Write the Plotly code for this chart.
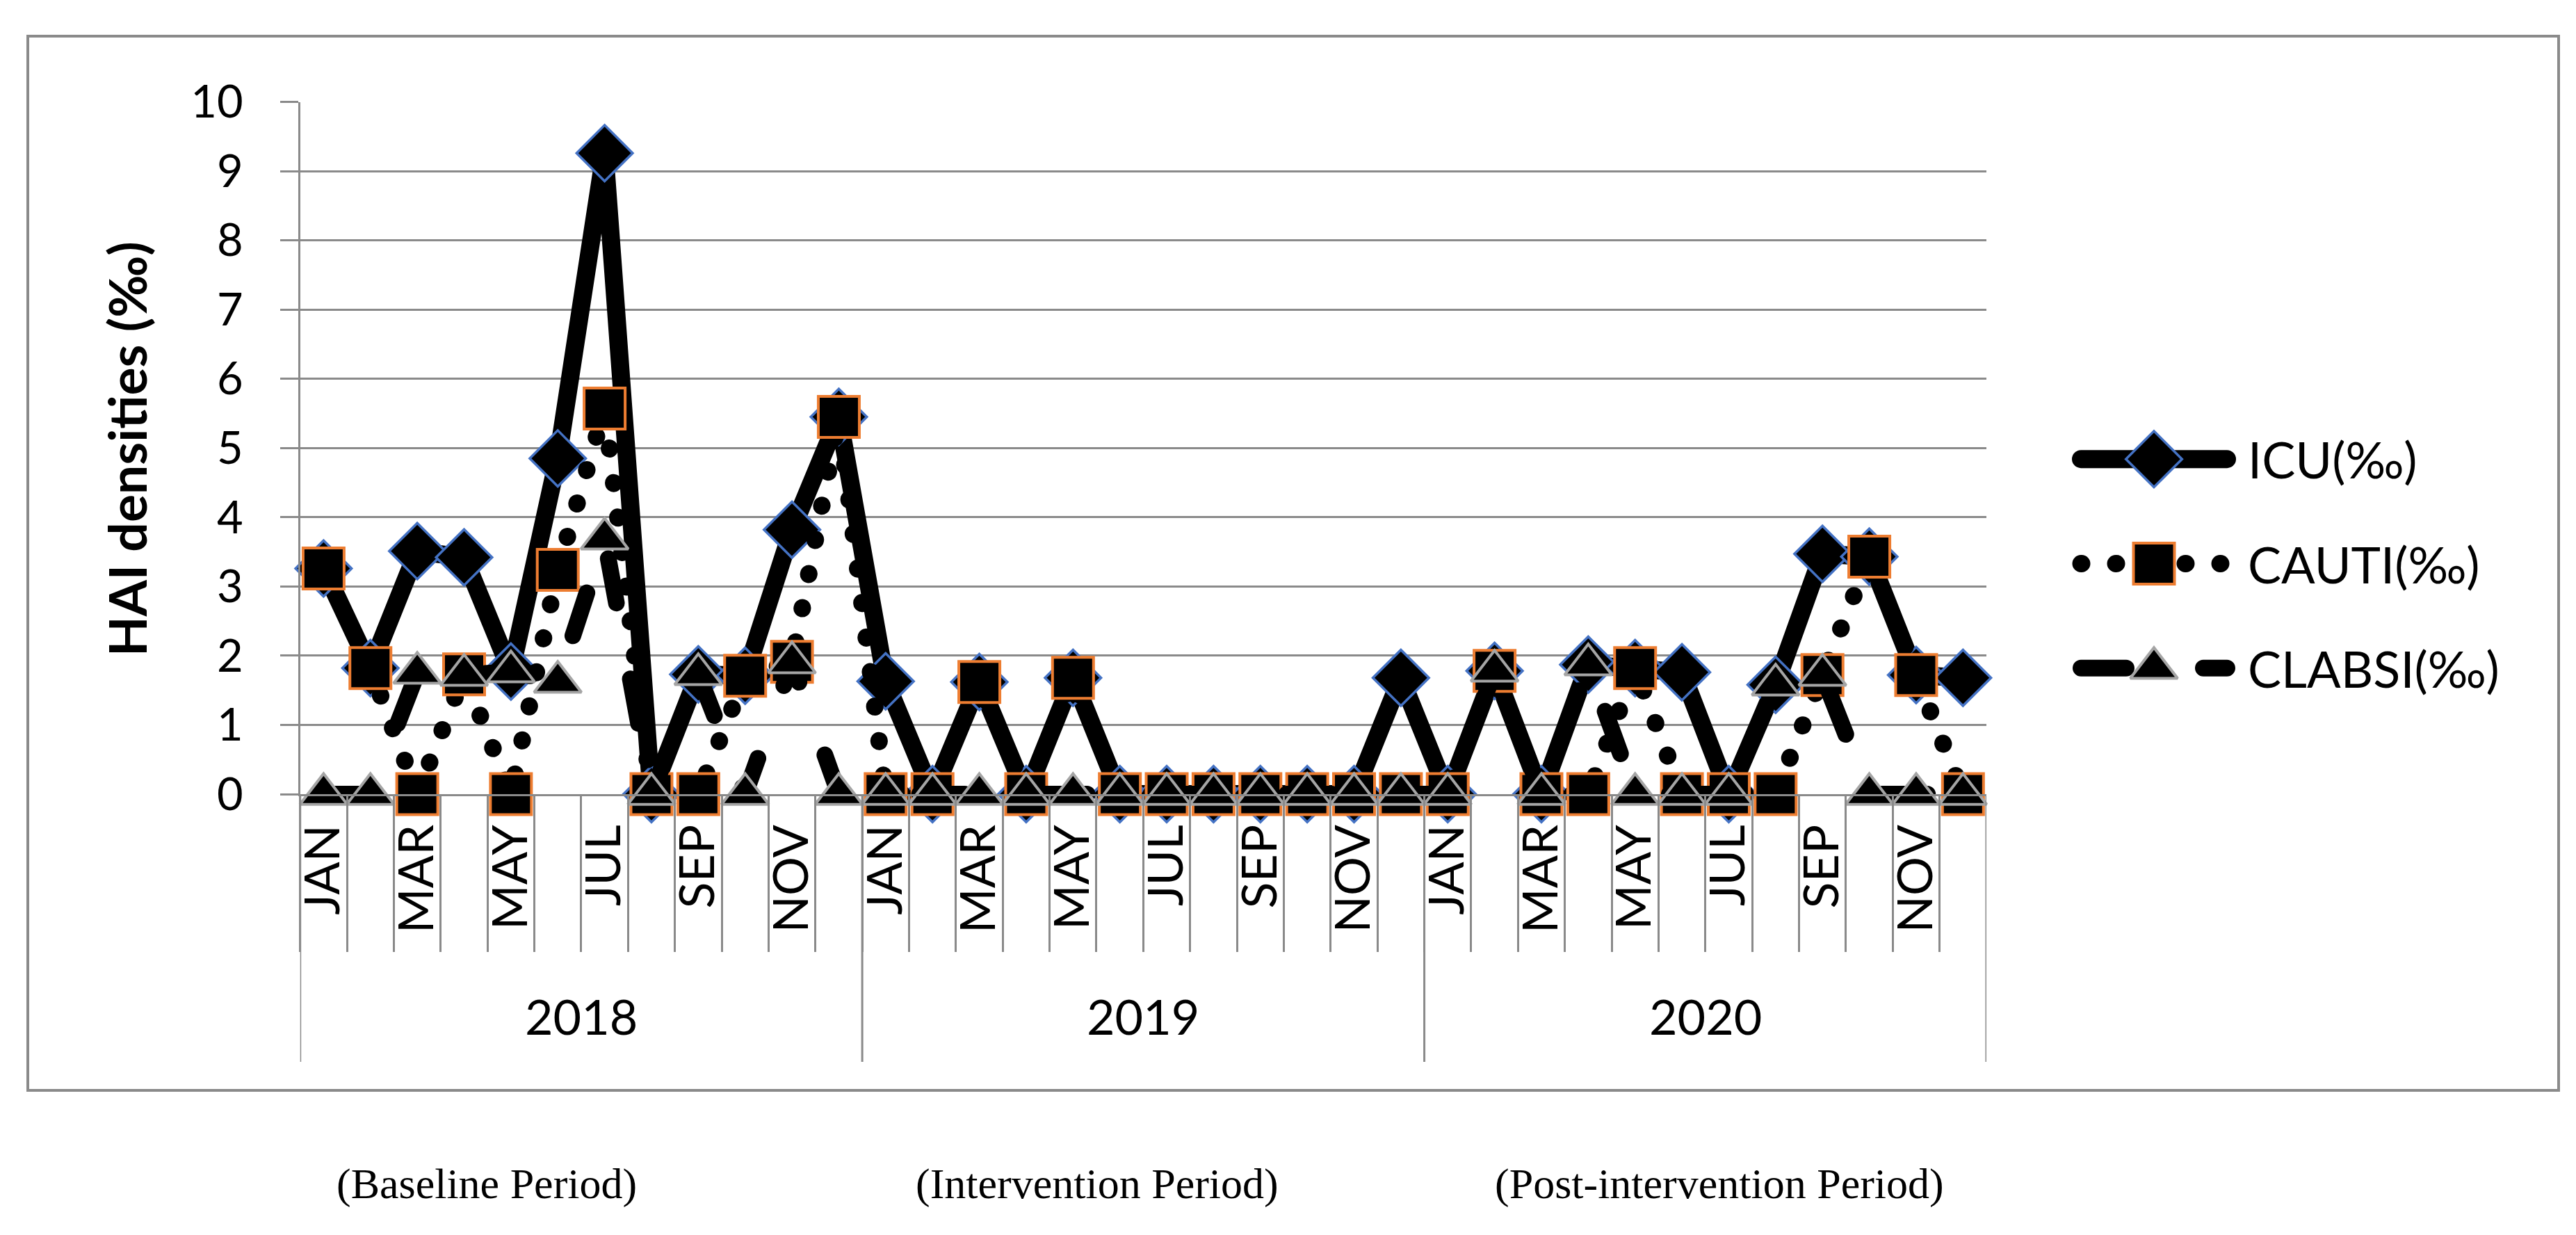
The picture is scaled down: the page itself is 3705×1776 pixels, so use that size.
import plotly.graph_objects as go

W, H = 3705, 1776

# ---------------- data ----------------
years = ["2018", "2019", "2020"]
months = ["JAN", "FEB", "MAR", "APR", "MAY", "JUN", "JUL", "AUG", "SEP", "OCT", "NOV", "DEC"]
periods = ["(Baseline Period)", "(Intervention Period)", "(Post-intervention Period)"]

icu = [3.26, 1.82, 3.51, 3.42, 1.77, 4.85, 9.26, 0, 1.73, 1.71, 3.82, 5.45,
       1.63, 0, 1.62, 0, 1.68, 0, 0, 0, 0, 0, 0, 1.68,
       0, 1.78, 0, 1.87, 1.82, 1.76, 0, 1.58, 3.47, 3.43, 1.72, 1.68]
cauti = [3.26, 1.82, 0, 1.73, 0, 3.24, 5.57, 0, 0, 1.71, 1.91, 5.45,
         0, 0, 1.62, 0, 1.68, 0, 0, 0, 0, 0, 0, 0,
         0, 1.78, 0, 0, 1.82, 0, 0, 0, 1.72, 3.43, 1.72, 0]
clabsi = [0, 0, 1.75, 1.72, 1.77, 1.62, 3.69, 0, 1.73, 0, 1.90, 0,
          0, 0, 0, 0, 0, 0, 0, 0, 0, 0, 0, 0,
          0, 1.78, 0, 1.87, 0, 0, 0, 1.58, 1.72, 0, 0, 0]
series_names = ["ICU(‰)", "CAUTI(‰)", "CLABSI(‰)"]
y_title = "HAI densities (‰)"

cats = [f"{y}-{m}" for y in years for m in months]
ticktext = [m if i % 2 == 0 else "" for y in years for i, m in enumerate(months)]

# ---------------- geometry helpers ----------------
def px(x):
    return x / W

def py(y):
    return (H - y) / H

PL, PR, PT, PB = 423.7, 2849.0, 138.5, 1134.0
GRAY = "#8A8A8A"
SANS = "Lato"

styles = [
    dict(line=dict(color="black", width=26, dash="solid"),
         marker=dict(symbol="diamond", size=62, color="black",
                     line=dict(color="#4472C4", width=3.5))),
    dict(line=dict(color="black", width=25, dash="1px,49px"),
         marker=dict(symbol="square", size=59, color="black",
                     line=dict(color="#ED7D31", width=4))),
    dict(line=dict(color="black", width=24, dash="65px,111px"),
         marker=dict(symbol="triangle-up", size=59, color="black",
                     line=dict(color="#A5A5A5", width=4))),
]

fig = go.Figure()
for name, vals, st in zip(series_names, [icu, cauti, clabsi], styles):
    fig.add_trace(go.Scatter(x=cats, y=vals, name=name, mode="lines+markers",
                             line=st["line"], marker=st["marker"],
                             cliponaxis=False, showlegend=False))

# manual legend on an overlay axis pair (range padded so the round caps are not cut)
LX0, LX1 = 2985, 3195           # line sample end points, px
pad = 30 / (LX1 - LX0)
for i, (name, st) in enumerate(zip(series_names, styles)):
    row = 2.5 - i
    fig.add_trace(go.Scatter(x=[0, 1], y=[row, row], mode="lines", line=st["line"],
                             xaxis="x2", yaxis="y2", cliponaxis=False, showlegend=False,
                             hoverinfo="skip"))
    fig.add_trace(go.Scatter(x=[0.5], y=[row], mode="markers", marker=st["marker"],
                             xaxis="x2", yaxis="y2", cliponaxis=False, showlegend=False,
                             hoverinfo="skip"))

annotations = []
for i, name in enumerate(series_names):
    annotations.append(dict(x=px(3223), y=2.5 - i, xref="paper", yref="y2", text=name,
                            showarrow=False, xanchor="left", yanchor="middle",
                            font=dict(family=SANS, size=72, color="black")))

# y title
annotations.append(dict(x=px(174), y=py(638), xref="paper", yref="paper",
                        text="<b>" + y_title + "</b>", textangle=-90, showarrow=False,
                        xanchor="center", yanchor="middle",
                        font=dict(family=SANS, size=75, color="black")))

# year group labels
for gi, yr in enumerate(years):
    annotations.append(dict(x=gi * 12 + 5.5, y=py(1453), xref="x", yref="paper", text=yr,
                            showarrow=False, xanchor="center", yanchor="middle",
                            font=dict(family=SANS, size=70, color="black")))

# period labels below the chart frame
for xc, txt in zip([692, 1570, 2465], periods):
    annotations.append(dict(x=px(xc), y=py(1694), xref="paper", yref="paper", text=txt,
                            showarrow=False, xanchor="center", yanchor="middle",
                            font=dict(family="Liberation Serif", size=62, color="black")))

shapes = [
    dict(type="rect", xref="paper", yref="paper", x0=px(32), x1=px(3672), y0=py(1560),
         y1=py(44), line=dict(color=GRAY, width=4), layer="below"),
]
for b in [-0.5, 11.5, 23.5, 35.5]:
    shapes.append(dict(type="line", xref="x", yref="paper", x0=b, x1=b, y0=py(PB),
                       y1=py(1519), line=dict(color=GRAY, width=3)))

fig.update_layout(
    width=W, height=H, autosize=False,
    margin=dict(l=0, r=0, t=0, b=0),
    paper_bgcolor="white", plot_bgcolor="white",
    showlegend=False,
    annotations=annotations, shapes=shapes,
    xaxis=dict(domain=[px(PL), px(PR)], type="category", categoryorder="array",
               categoryarray=cats, tickmode="array", tickvals=cats, ticktext=ticktext,
               tickson="boundaries", ticks="outside", ticklen=224, tickwidth=3,
               tickcolor=GRAY, tickangle=-90, showgrid=False, showline=True,
               linecolor=GRAY, linewidth=3, zeroline=False, ticklabelstandoff=13,
               tickfont=dict(family=SANS, size=70, color="black"), automargin=False,
               range=[-0.5, 35.5], anchor="y"),
    yaxis=dict(domain=[py(PB), py(PT)], range=[0, 10], dtick=1, tick0=0,
               showgrid=True, gridcolor=GRAY, gridwidth=3, showline=True,
               linecolor=GRAY, linewidth=3, ticks="outside", ticklen=26, tickwidth=3,
               tickcolor=GRAY, zeroline=False, ticklabelstandoff=40,
               tickfont=dict(family=SANS, size=65, color="black"), automargin=False,
               anchor="x"),
    xaxis2=dict(domain=[px(LX0 - 30), px(LX1 + 30)], range=[-pad, 1 + pad], visible=False,
                anchor="y2", fixedrange=True),
    yaxis2=dict(domain=[py(1028), py(577)], range=[0, 3], visible=False,
                anchor="x2", fixedrange=True),
)

post = """
var gd = document.getElementById('{plot_id}');
function rc(){
  gd.querySelectorAll('.scatterlayer path.js-line').forEach(function(p){
    p.style.strokeLinecap = 'round';
  });
  gd.querySelectorAll('.cartesianlayer [clip-path]').forEach(function(e){
    if (!e.closest('.gridlayer')) { e.removeAttribute('clip-path'); }
  });
}
rc();
setTimeout(rc, 50);
setTimeout(rc, 300);
gd.on('plotly_afterplot', rc);
"""

fig.write_html("out.html", post_script=post)
